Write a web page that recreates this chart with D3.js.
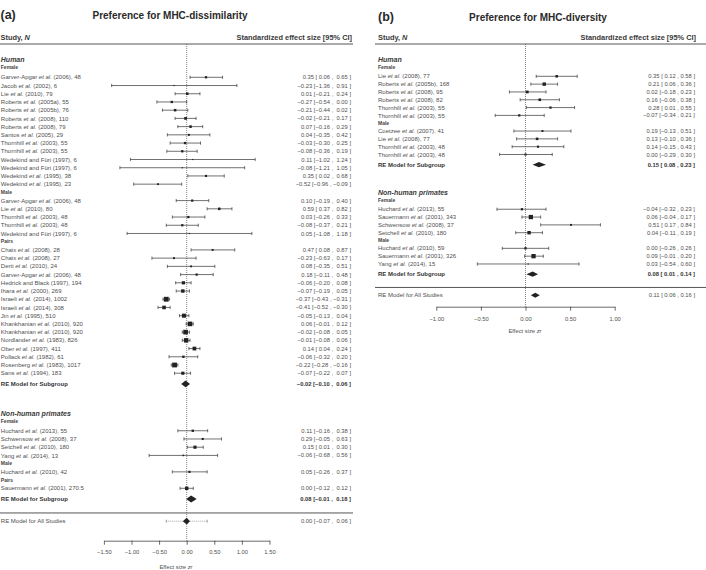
<!DOCTYPE html>
<html>
<head>
<meta charset="utf-8">
<script src="https://cdn.jsdelivr.net/npm/d3@7/dist/d3.min.js"></script>
<style>
  html, body { margin: 0; padding: 0; background: #fff; }
  svg { display: block; font-family: "Liberation Sans", Arial, Helvetica, sans-serif; }
</style>
</head>
<body>
<svg id="chart" width="706" height="570"></svg>
<script>
// ---------------- DATA ----------------
// Panel (a): Preference for MHC-dissimilarity
const aHumanFemale = [
  ["Garver-Apgar et al. (2006), 48", 0.35, 0.06, 0.65],
  ["Jacob et al. (2002), 6", -0.23, -1.36, 0.91],
  ["Lie et al. (2010), 79", 0.01, -0.21, 0.24],
  ["Roberts et al. (2005a), 55", -0.27, -0.54, 0.00],
  ["Roberts et al. (2005b), 76", -0.21, -0.44, 0.02],
  ["Roberts et al. (2008), 110", -0.02, -0.21, 0.17],
  ["Roberts et al. (2008), 79", 0.07, -0.16, 0.29],
  ["Santos et al. (2005), 29", 0.04, -0.35, 0.42],
  ["Thornhill et al. (2003), 55", -0.03, -0.30, 0.25],
  ["Thornhill et al. (2003), 55", -0.08, -0.36, 0.19],
  ["Wedekind and Füri (1997), 6", 0.11, -1.02, 1.24],
  ["Wedekind and Füri (1997), 6", -0.08, -1.21, 1.05],
  ["Wedekind et al. (1995), 38", 0.35, 0.02, 0.68],
  ["Wedekind et al. (1995), 23", -0.52, -0.96, -0.09]
];
const aHumanMale = [
  ["Garver-Apgar et al. (2006), 48", 0.10, -0.19, 0.40],
  ["Lie et al. (2010), 80", 0.59, 0.37, 0.82],
  ["Thornhill et al. (2003), 48", 0.03, -0.26, 0.33],
  ["Thornhill et al. (2003), 48", -0.08, -0.37, 0.21],
  ["Wedekind and Füri (1997), 6", 0.05, -1.08, 1.18]
];
const aHumanPairs = [
  ["Chaix et al. (2008), 28", 0.47, 0.08, 0.87],
  ["Chaix et al. (2008), 27", -0.23, -0.63, 0.17],
  ["Derti et al. (2010), 24", 0.08, -0.35, 0.51],
  ["Garver-Apgar et al. (2006), 48", 0.18, -0.11, 0.48],
  ["Hedrick and Black (1997), 194", -0.06, -0.20, 0.08],
  ["Ihara et al. (2000), 269", -0.07, -0.19, 0.05],
  ["Israeli et al. (2014), 1002", -0.37, -0.43, -0.31],
  ["Israeli et al. (2014), 308", -0.41, -0.52, -0.30],
  ["Jin et al. (1995), 510", -0.05, -0.13, 0.04],
  ["Khankhanian et al. (2010), 920", 0.06, -0.01, 0.12],
  ["Khankhanian et al. (2010), 920", -0.02, -0.08, 0.05],
  ["Nordlander et al. (1983), 826", -0.01, -0.08, 0.06],
  ["Ober et al. (1997), 411", 0.14, 0.04, 0.24],
  ["Pollack et al. (1982), 61", -0.06, -0.32, 0.20],
  ["Rosenberg et al. (1983), 1017", -0.22, -0.28, -0.16],
  ["Sans et al. (1994), 183", -0.07, -0.22, 0.07]
];
const aHumanRE = [-0.02, -0.10, 0.06];
const aPrimFemale = [
  ["Huchard et al. (2013), 55", 0.11, -0.16, 0.38],
  ["Schwensow et al. (2008), 37", 0.29, -0.05, 0.63],
  ["Setchell et al. (2010), 180", 0.15, 0.01, 0.30],
  ["Yang et al. (2014), 13", -0.06, -0.68, 0.56]
];
const aPrimMale = [
  ["Huchard et al. (2010), 42", 0.05, -0.26, 0.37]
];
const aPrimPairs = [
  ["Sauermann et al. (2001), 270.5", 0.00, -0.12, 0.12]
];
const aPrimRE = [0.08, -0.01, 0.18];
const aAllRE = [0.00, -0.07, 0.06];
const aAllPI = [-0.37, 0.37];
const aTicks = [-1.5, -1.0, -0.5, 0.0, 0.5, 1.0, 1.5];

// Panel (b): Preference for MHC-diversity
const bHumanFemale = [
  ["Lie et al. (2008), 77", 0.35, 0.12, 0.58],
  ["Roberts et al. (2005b), 168", 0.21, 0.06, 0.36],
  ["Roberts et al. (2008), 95", 0.02, -0.18, 0.23],
  ["Roberts et al. (2008), 82", 0.16, -0.06, 0.38],
  ["Thornhill et al. (2003), 55", 0.28, 0.01, 0.55],
  ["Thornhill et al. (2003), 55", -0.07, -0.34, 0.21]
];
const bHumanMale = [
  ["Coetzee et al. (2007), 41", 0.19, -0.13, 0.51],
  ["Lie et al. (2008), 77", 0.13, -0.10, 0.36],
  ["Thornhill et al. (2003), 48", 0.14, -0.15, 0.43],
  ["Thornhill et al. (2003), 48", 0.00, -0.29, 0.30]
];
const bHumanRE = [0.15, 0.08, 0.23];
const bPrimFemale = [
  ["Huchard et al. (2013), 55", -0.04, -0.32, 0.23],
  ["Sauermann et al. (2001), 343", 0.06, -0.04, 0.17],
  ["Schwensow et al. (2008), 37", 0.51, 0.17, 0.84],
  ["Setchell et al. (2010), 180", 0.04, -0.11, 0.19]
];
const bPrimMale = [
  ["Huchard et al. (2010), 59", 0.00, -0.26, 0.26],
  ["Sauermann et al. (2001), 326", 0.09, -0.01, 0.20],
  ["Yang et al. (2014), 15", 0.03, -0.54, 0.60]
];
const bPrimRE = [0.08, 0.01, 0.14];
const bAllRE = [0.11, 0.06, 0.16];
const bTicks = [-1.0, -0.5, 0.0, 0.5, 1.0];

// ---------------- DRAWING ----------------
const svg = d3.select("#chart");
const TXT = "#505050", INK = "#333";

function fmt(v, pad) {
  const s = Math.abs(v).toFixed(2);
  if (v < 0) return "\u2212" + s;
  return (pad ? " " : "") + s;
}
function ciText(est, lo, hi, padLo, padHi) {
  return fmt(est, false) + " [" + fmt(lo, padLo) + " , " + fmt(hi, padHi) + " ]";
}

function studyLabel(sel, name) {
  const parts = name.split("et al.");
  parts.forEach((p, i) => {
    if (p) sel.append("tspan").text(p);
    if (i < parts.length - 1) sel.append("tspan").attr("font-style", "italic").text("et al.");
  });
}

function drawPanel(cfg) {
  const g = svg.append("g");
  const x = d3.scaleLinear().domain(cfg.domain).range(cfg.range);
  const row = d3.scaleLinear().domain([0, 1]).range([cfg.y0, cfg.y0 + cfg.step]);

  // layout rows
  const items = [];
  let r = 0, last = 0;
  cfg.groups.forEach((grp, gi) => {
    if (gi > 0) r = last + 7;
    const first = r;
    items.push({type: "group", name: grp.name, r: first - 2.1});
    grp.subs.forEach((sub, si) => {
      if (si === 0) items.push({type: "sub", name: sub.name, r: first - 1.2});
      else { items.push({type: "sub", name: sub.name, r: r}); r += 1; }
      sub.data.forEach(d => { items.push({type: "study", d: d, r: r}); last = r; r += 1; });
    });
    items.push({type: "re", name: "RE Model for Subgroup", d: grp.re, r: last + 1.3, bold: true});
  });
  const lineR = last + 3.0;
  items.push({type: "re", name: "RE Model for All Studies", d: cfg.all, r: last + 4.0, bold: false, pi: cfg.pi});

  const allStudies = items.filter(i => i.type === "study").map(i => i.d);
  const padLo = allStudies.concat(items.filter(i => i.type === "re").map(i => i.d)).some(d => d[2] < 0);
  const padHi = allStudies.some(d => d[3] < 0);

  const inv = d => 3.92 / (d[3] - d[2]);
  const size = d3.scaleSqrt().domain(d3.extent(allStudies, inv)).range(cfg.sizeRange);

  // titles
  g.append("text").attr("x", cfg.tagX).attr("y", cfg.titleY).attr("dy", "0.35em")
    .attr("font-size", 12.5).attr("font-weight", "bold").attr("fill", "#2a2a2a").text(cfg.tag);
  g.append("text").attr("x", cfg.titleX).attr("y", cfg.titleY).attr("dy", "0.35em")
    .attr("text-anchor", "middle").attr("font-size", 10).attr("font-weight", "bold").attr("fill", "#2a2a2a").text(cfg.title);

  // header
  const h = g.append("text").attr("x", cfg.hdrX).attr("y", cfg.hdrY).attr("dy", "0.35em")
    .attr("font-size", 7.4).attr("font-weight", "bold").attr("fill", "#3a3a3a");
  h.append("tspan").text("Study, ");
  h.append("tspan").attr("font-style", "italic").text("N");
  g.append("text").attr("x", cfg.valX + 1).attr("y", cfg.hdrY).attr("dy", "0.35em").attr("text-anchor", "end")
    .attr("font-size", 7.4).attr("font-weight", "bold").attr("fill", "#3a3a3a").text("Standardized effect size [95% CI]");
  g.append("line").attr("x1", cfg.lineX1).attr("x2", cfg.lineX2).attr("y1", cfg.hdrLineY).attr("y2", cfg.hdrLineY)
    .attr("stroke", "#555").attr("stroke-width", 1);

  // zero reference line
  g.append("line").attr("x1", x(0)).attr("x2", x(0)).attr("y1", cfg.hdrLineY).attr("y2", cfg.axisY)
    .attr("stroke", "#555").attr("stroke-width", 0.7).attr("stroke-dasharray", "1,1");

  // separator line
  g.append("line").attr("x1", cfg.lineX1).attr("x2", cfg.lineX2).attr("y1", row(lineR)).attr("y2", row(lineR))
    .attr("stroke", "#555").attr("stroke-width", 1);

  items.forEach(it => {
    const y = row(it.r);
    if (it.type === "group") {
      g.append("text").attr("x", cfg.labX).attr("y", y).attr("dy", "0.35em").attr("font-size", 7)
        .attr("font-weight", "bold").attr("font-style", "italic").attr("fill", "#3a3a3a").text(it.name);
    } else if (it.type === "sub") {
      g.append("text").attr("x", cfg.labX).attr("y", y).attr("dy", "0.35em").attr("font-size", 5)
        .attr("font-weight", "bold").attr("fill", "#444").text(it.name);
    } else if (it.type === "study") {
      const d = it.d;
      const t = g.append("text").attr("x", cfg.labX).attr("y", y).attr("dy", "0.35em")
        .attr("font-size", 6.0).attr("fill", TXT);
      studyLabel(t, d[0]);
      g.append("line").attr("x1", x(d[2])).attr("x2", x(d[3])).attr("y1", y).attr("y2", y)
        .attr("stroke", INK).attr("stroke-width", 0.7);
      [d[2], d[3]].forEach(v => g.append("line").attr("x1", x(v)).attr("x2", x(v))
        .attr("y1", y - 1.6).attr("y2", y + 1.6).attr("stroke", INK).attr("stroke-width", 0.7));
      const s = size(inv(d));
      g.append("rect").attr("x", x(d[1]) - s / 2).attr("y", y - s / 2).attr("width", s).attr("height", s)
        .attr("fill", "#222");
      g.append("text").attr("x", cfg.valX).attr("y", y).attr("dy", "0.35em").attr("text-anchor", "end")
        .attr("font-size", 5.8).attr("fill", TXT).attr("xml:space", "preserve")
        .text(ciText(d[1], d[2], d[3], padLo, padHi));
    } else if (it.type === "re") {
      const d = it.d;
      g.append("text").attr("x", cfg.labX).attr("y", y).attr("dy", "0.35em").attr("font-size", 6.0)
        .attr("font-weight", it.bold ? "bold" : "normal").attr("fill", it.bold ? "#333" : TXT).text(it.name);
      if (it.pi) {
        g.append("line").attr("x1", x(it.pi[0])).attr("x2", x(it.pi[1])).attr("y1", y).attr("y2", y)
          .attr("stroke", "#666").attr("stroke-width", 0.6).attr("stroke-dasharray", "1,1");
        it.pi.forEach(v => g.append("line").attr("x1", x(v)).attr("x2", x(v)).attr("y1", y - 1.5).attr("y2", y + 1.5)
          .attr("stroke", "#666").attr("stroke-width", 0.6));
      }
      const hh = cfg.diamondH;
      const pts = [[x(d[1]), y], [x(d[0]), y - hh], [x(d[2]), y], [x(d[0]), y + hh]];
      g.append("path").attr("d", d3.line()(pts) + "Z").attr("fill", "#222");
      g.append("text").attr("x", cfg.valX).attr("y", y).attr("dy", "0.35em").attr("text-anchor", "end")
        .attr("font-size", 5.8).attr("font-weight", it.bold ? "bold" : "normal").attr("fill", it.bold ? "#333" : TXT)
        .attr("xml:space", "preserve").text(ciText(d[0], d[1], d[2], padLo, padHi));
    }
  });

  // axis (R style, ticks pointing down)
  const ax = g.append("g").attr("transform", `translate(0,${cfg.axisY})`)
    .call(d3.axisBottom(x).tickValues(cfg.ticks).tickSize(4).tickSizeOuter(0).tickFormat(v => fmt(v, false)));
  ax.select(".domain").attr("stroke", "#444").attr("stroke-width", 0.8);
  ax.selectAll(".tick line").attr("stroke", "#444").attr("stroke-width", 0.8);
  ax.selectAll(".tick text").attr("font-size", 5.8).attr("fill", TXT).attr("y", cfg.tickLabDy).attr("dy", "0.35em")
    .attr("font-family", "Liberation Sans, Arial, sans-serif");
  ax.attr("font-family", null);
  const xl = g.append("text").attr("x", cfg.xlabX).attr("y", cfg.xlabY).attr("dy", "0.35em")
    .attr("text-anchor", "middle").attr("font-size", 5.8).attr("fill", TXT);
  xl.append("tspan").text("Effect size ");
  xl.append("tspan").attr("font-style", "italic").text("zr");
}

drawPanel({
  tag: "(a)", title: "Preference for MHC-dissimilarity",
  tagX: 0.5, titleX: 170, titleY: 15,
  hdrX: 0.5, hdrY: 37.7, hdrLineY: 44, lineX1: 0, lineX2: 353,
  labX: 0.8, valX: 351,
  domain: [-1.5, 1.5], range: [103.9, 269.5],
  y0: 77.3, step: 8.22,
  groups: [
    {name: "Human", subs: [
      {name: "Female", data: aHumanFemale},
      {name: "Male", data: aHumanMale},
      {name: "Pairs", data: aHumanPairs}], re: aHumanRE},
    {name: "Non-human primates", subs: [
      {name: "Female", data: aPrimFemale},
      {name: "Male", data: aPrimMale},
      {name: "Pairs", data: aPrimPairs}], re: aPrimRE}
  ],
  all: aAllRE, pi: aAllPI,
  sizeRange: [1.2, 4.8], diamondH: 3.4,
  ticks: aTicks, axisY: 540.7, tickLabDy: 11.5, xlabX: 176, xlabY: 566.5
});

drawPanel({
  tag: "(b)", title: "Preference for MHC-diversity",
  tagX: 378, titleX: 538, titleY: 17,
  hdrX: 378, hdrY: 37.7, hdrLineY: 44, lineX1: 375, lineX2: 706,
  labX: 378, valX: 695,
  domain: [-1.0, 1.0], range: [436.3, 614.7],
  y0: 76.3, step: 7.82,
  groups: [
    {name: "Human", subs: [
      {name: "Female", data: bHumanFemale},
      {name: "Male", data: bHumanMale}], re: bHumanRE},
    {name: "Non-human primates", subs: [
      {name: "Female", data: bPrimFemale},
      {name: "Male", data: bPrimMale}], re: bPrimRE}
  ],
  all: bAllRE, pi: null,
  sizeRange: [1.2, 4.3], diamondH: 2.6,
  ticks: bTicks, axisY: 306.7, tickLabDy: 12, xlabX: 525, xlabY: 331
});
</script>
</body>
</html>
